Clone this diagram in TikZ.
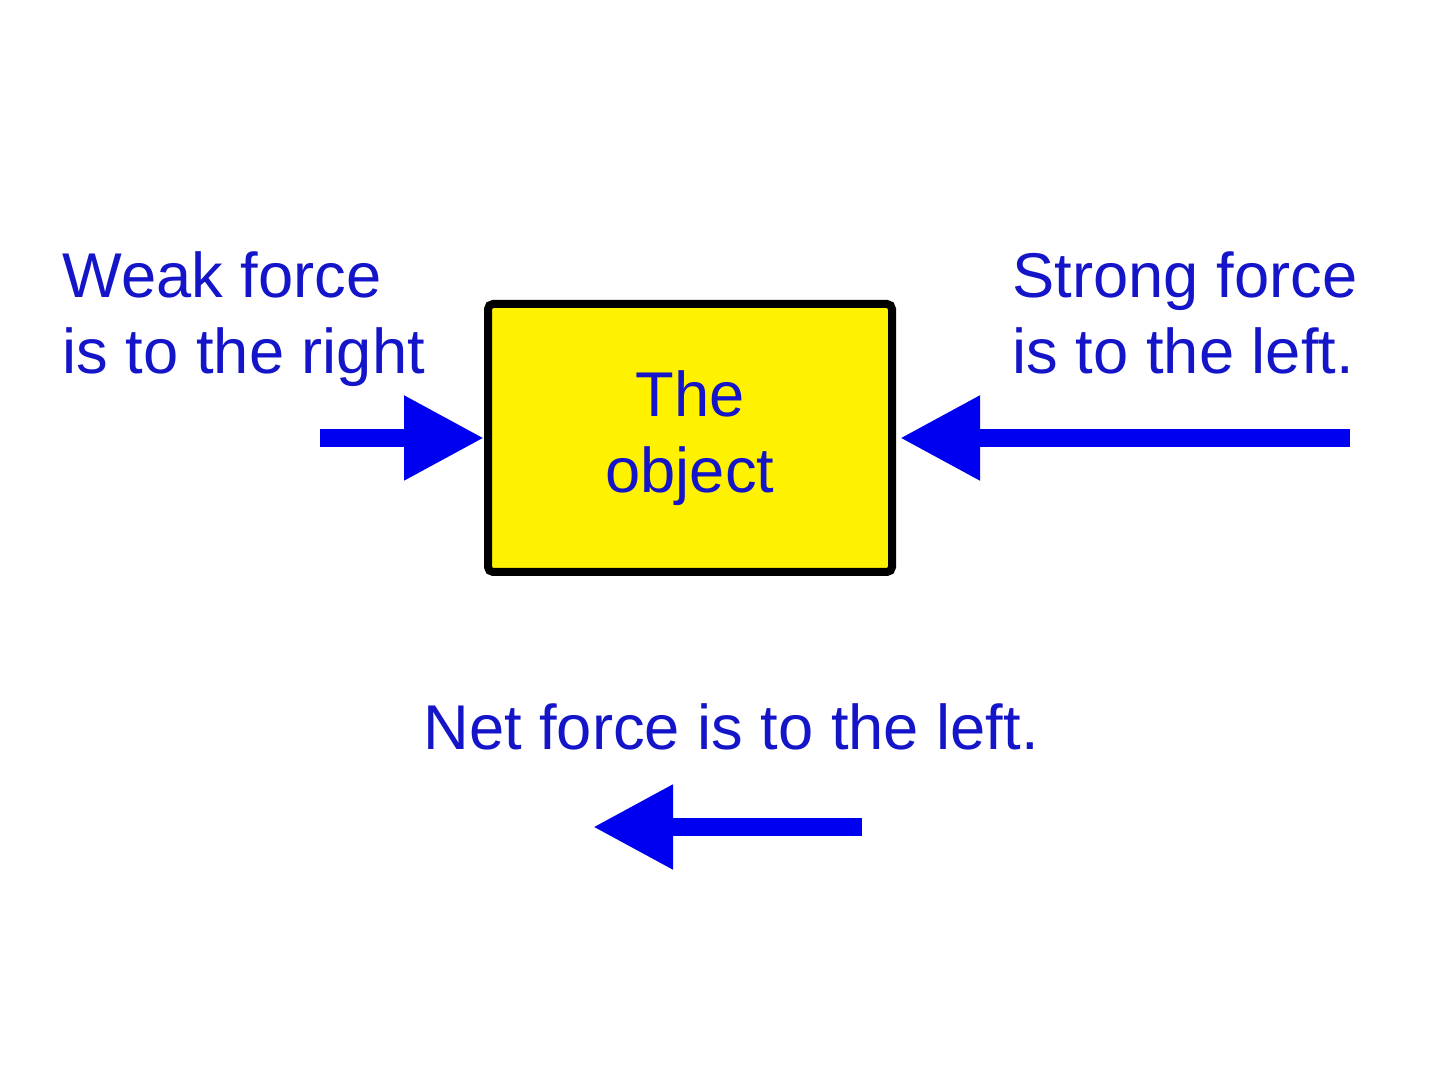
\documentclass[tikz,border=0pt]{standalone}
\usepackage{fontspec}
\setmainfont{Liberation Sans}
\usetikzlibrary{arrows.meta}
\definecolor{forceblue}{RGB}{0,0,240}
\definecolor{textblue}{RGB}{20,20,200}
\tikzset{
  label/.style={text=textblue, font=\fontsize{18pt}{21.5pt}\selectfont, inner sep=0pt},
  force/.style={draw=forceblue, line width=1.8mm, -{Triangle[length=8mm,width=8mm]}}
}
\begin{document}
\begin{tikzpicture}
        \useasboundingbox (0,0) rectangle (14.4,10.8);
        \node[draw, line width=0.8mm, fill=yellow, rounded corners=0.5mm,
              minimum width=4.04cm, minimum height=2.68cm,
              label, align=center] (obj) at (6.90, 6.42) {The\\object};

        \node[label, anchor=north west, align=left] (weak) at (0.62, 8.29) {Weak force\\is to the right};
        \node[label, anchor=north west, align=left] (strong) at (10.12, 8.29) {Strong force\\is to the left.};
        \node[label, anchor=base] (net) at (7.31, 3.30) {Net force is to the left.};

        \coordinate (weakstart) at (3.20, 6.42);
        \coordinate (strongstart) at (13.50, 6.42);
        \coordinate (netstart) at (8.62, 2.53);
        \coordinate (netend) at (5.93, 2.53);

        \draw[force] (weakstart) -- (obj.west);
        \draw[force] (strongstart) -- ([xshift=0.4mm]obj.east);
        \draw[force] (netstart) -- (netend);
    \end{tikzpicture}
\end{document}
